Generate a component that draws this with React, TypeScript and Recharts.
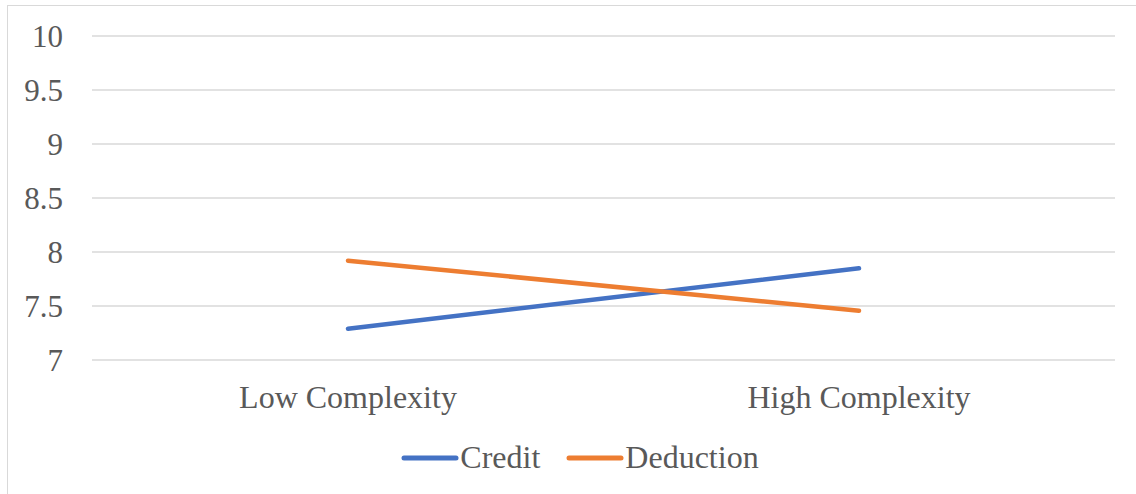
import { LineChart, Line, XAxis, YAxis, CartesianGrid, Legend } from 'recharts';

const categories = ['Low Complexity', 'High Complexity'];
const creditValues = [7.29, 7.85];
const deductionValues = [7.92, 7.455];
const yTicks = [7, 7.5, 8, 8.5, 9, 9.5, 10];

const seriesInfo = [
  { key: 'credit', label: 'Credit', color: '#4472C4' },
  { key: 'deduction', label: 'Deduction', color: '#ED7D31' },
];

const chartData = categories.map((c, i) => ({
  name: c,
  credit: creditValues[i],
  deduction: deductionValues[i],
}));

const FONT = 'Liberation Serif';
const TEXT = '#595959';

function LegendBox() {
  return (
    <div style={{ display: 'flex', justifyContent: 'center', alignItems: 'center', fontFamily: FONT, fontSize: 32, color: TEXT }}>
      {seriesInfo.map((s, i) => (
        <div key={s.key} style={{ display: 'flex', alignItems: 'center', marginLeft: i === 0 ? 0 : 26 }}>
          <svg width={58} height={10}>
            <line x1={3} y1={5} x2={55} y2={5} stroke={s.color} strokeWidth={5} strokeLinecap="round" />
          </svg>
          <span style={{ marginLeft: 1 }}>{s.label}</span>
        </div>
      ))}
    </div>
  );
}

export default function App() {
  return (
    <div style={{ position: 'fixed', left: 0, top: 0, width: 1136, height: 494, background: '#fff', overflow: 'hidden', fontFamily: FONT }}>
      <div style={{ position: 'absolute', left: 7, top: 5, width: 1200, height: 600, border: '1.5px solid #d9d9d9' }} />
      <div style={{ position: 'absolute', left: 0, top: 0 }}>
        <LineChart width={1136} height={494} data={chartData} margin={{ top: 36, right: 21, left: 12, bottom: 40 }} style={{ fontFamily: FONT }}>
          <CartesianGrid vertical={false} stroke="#d9d9d9" strokeWidth={1.5} />
          <XAxis
            dataKey="name"
            axisLine={false}
            tickLine={false}
            tickSize={0}
            tickMargin={25}
            height={50}
            padding={{ left: 256, right: 256 }}
            tick={{ fill: TEXT, fontSize: 32, fontFamily: FONT }}
          />
          <YAxis
            domain={[7, 10]}
            ticks={yTicks}
            axisLine={false}
            tickLine={false}
            tickSize={0}
            tickMargin={29}
            width={80}
            tick={{ fill: TEXT, fontSize: 31, fontFamily: FONT }}
          />
          <Legend content={<LegendBox />} wrapperStyle={{ top: 439, left: 0, width: 1160, height: 44 }} />
          {seriesInfo.map(s => (
            <Line
              key={s.key}
              dataKey={s.key}
              stroke={s.color}
              strokeWidth={4.5}
              strokeLinecap="round"
              dot={false}
              activeDot={false}
              isAnimationActive={false}
            />
          ))}
        </LineChart>
      </div>
    </div>
  );
}
